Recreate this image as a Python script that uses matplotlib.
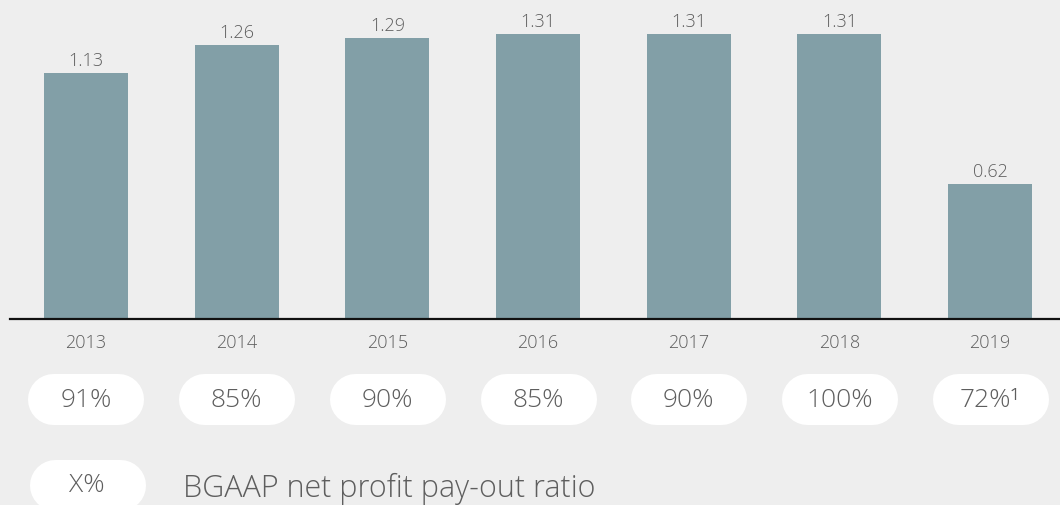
#!/usr/bin/env python3

import numpy as np
from matplotlib import pyplot as plt

years = ['2013', '2014', '2015', '2016', '2017', '2018', '2019']
dividend = [1.13, 1.26, 1.29, 1.31, 1.31, 1.31, 0.62]
payout = ['91%', '85%', '90%', '85%', '90%', '100%', '72%\u00b9']
legend_label = 'BGAAP net profit pay-out ratio'

BG = '#eeeeee'
BAR = '#829fa7'
GREY = '#5e5e5e'

plt.rcParams['font.family'] = ['Open Sans', 'DejaVu Sans']


def pill(ax, cx, cy, w, h):
    # thick line with round caps -> pill shape (h px tall at dpi 100)
    ax.plot([cx - w/2 + h/2, cx + w/2 - h/2], [cy, cy], color='white',
            lw=h*72/100, solid_capstyle='round', zorder=1)


def main():
    W, H = 1060, 506
    fig = plt.figure(figsize=(W/100, H/100), dpi=100, facecolor=BG)

    # main bar axes: baseline at pixel row 320, spanning x 10..1060
    ax = fig.add_axes([10/W, (H-320)/H, 1050/W, 320/H])
    ax.set_facecolor(BG)
    x = np.arange(len(years))
    ax.bar(x, dividend, width=0.557, color=BAR, zorder=2)
    ax.set_xlim(-0.504, 6.464)
    ax.set_ylim(0, 1.47)
    for xi, v in zip(x, dividend):
        ax.annotate(f'{v:.2f}', (xi, v), xytext=(0, 3), textcoords='offset points',
                    ha='center', va='bottom', fontsize=13, color=GREY, fontweight='light')
    for s in ['top', 'right', 'left']:
        ax.spines[s].set_visible(False)
    ax.spines['bottom'].set_linewidth(1.6)
    ax.spines['bottom'].set_color('#111111')
    ax.set_yticks([])
    ax.set_xticks(x)
    ax.set_xticklabels(years, fontsize=13, color=GREY, fontweight='light')
    ax.tick_params(axis='x', length=0, pad=10)

    # overlay in pixel coordinates for the pills
    ov = fig.add_axes([0, 0, 1, 1], facecolor='none')
    ov.set_xlim(0, W)
    ov.set_ylim(H, 0)
    ov.axis('off')
    fig.canvas.draw()
    pw, ph = 116, 51
    for xi, lab in zip(x, payout):
        px = ax.transData.transform((xi, 0))[0]
        pill(ov, px, 374 + ph/2, pw, ph)
        ov.text(px, 374 + ph/2 + 1, lab, ha='center', va='center',
                fontsize=19, color=GREY, fontweight='light', zorder=3)

    # legend pill
    pill(ov, 87, 460 + ph/2, pw, ph)
    ov.text(87, 486, 'X%', ha='center', va='center', fontsize=19,
            color=GREY, fontweight='light', zorder=3)
    ov.text(183, 489, legend_label, ha='left', va='center', fontsize=22,
            color=GREY, fontweight='light')

    fig.savefig('out.png', dpi=100, facecolor=BG)


if __name__ == '__main__':
    main()
